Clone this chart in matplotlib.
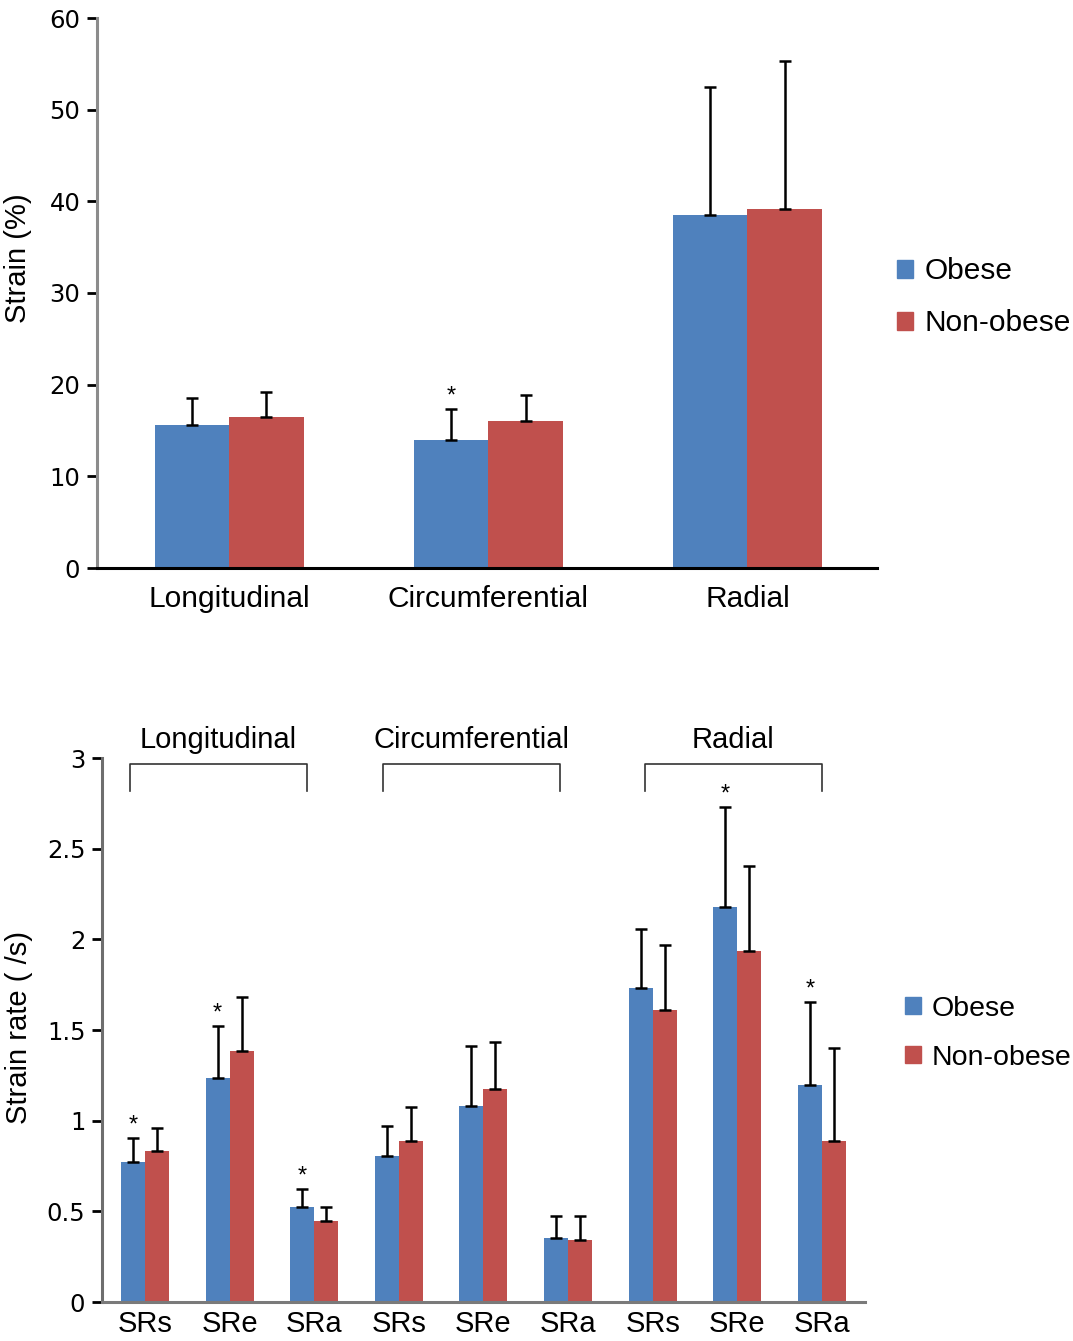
import numpy as np
import matplotlib
matplotlib.use("Agg")
import matplotlib.pyplot as plt

# Top panel: strain (%)
strain_cats = ["Longitudinal", "Circumferential", "Radial"]
strain_obese = [15.6, 14.0, 38.5]
strain_obese_err = [2.9, 3.3, 14.0]
strain_non = [16.5, 16.0, 39.2]
strain_non_err = [2.7, 2.9, 16.1]
strain_star = [False, True, False]

# Bottom panel: strain rate (/s)
rate_ticks = ["SRs", "SRe", "SRa"] * 3
rate_groups = ["Longitudinal", "Circumferential", "Radial"]
rate_obese = [0.77, 1.235, 0.524, 0.805, 1.08, 0.353, 1.73, 2.18, 1.197]
rate_obese_err = [0.135, 0.285, 0.10, 0.165, 0.33, 0.121, 0.327, 0.55, 0.458]
rate_non = [0.83, 1.385, 0.447, 0.888, 1.175, 0.342, 1.61, 1.936, 0.888]
rate_non_err = [0.13, 0.295, 0.077, 0.187, 0.259, 0.132, 0.36, 0.469, 0.512]
rate_star = [True, True, True, False, False, False, False, True, True]

BLUE = "#4F81BD"
RED = "#C0504D"
SANS = ["Liberation Sans", "DejaVu Sans"]

fig = plt.figure(figsize=(10.73, 13.41), dpi=100)


def style_axes(ax, left_color, bottom_color, xsize, xpad):
    for s in ["top", "right"]:
        ax.spines[s].set_visible(False)
    ax.spines["left"].set_color(left_color)
    ax.spines["bottom"].set_color(bottom_color)
    ax.spines["left"].set_linewidth(2.2)
    ax.spines["bottom"].set_linewidth(2.2)
    ax.tick_params(axis="y", direction="out", length=7, width=2, color="black",
                   labelsize=17.5, pad=5)
    ax.tick_params(axis="x", length=0, labelsize=xsize, pad=xpad)
    for lab in ax.get_xticklabels():
        lab.set_family(SANS)


def draw_bars(ax, x, obese, obese_err, non, non_err, stars, w, capsize, star_off):
    ax.bar(x - w / 2, obese, w, color=BLUE, edgecolor="none", zorder=2)
    ax.bar(x + w / 2, non, w, color=RED, edgecolor="none", zorder=2)
    ax.errorbar(x - w / 2, obese, yerr=[np.zeros(len(x)), obese_err], fmt="none",
                ecolor="black", elinewidth=1.8, capsize=capsize, capthick=1.8, zorder=3)
    ax.errorbar(x + w / 2, non, yerr=[np.zeros(len(x)), non_err], fmt="none",
                ecolor="black", elinewidth=1.8, capsize=capsize, capthick=1.8, zorder=3)
    for xi, v, e, s in zip(x, obese, obese_err, stars):
        if s:
            ax.text(xi - w / 2, v + e + star_off, "*", ha="center", va="bottom",
                    fontsize=17, family=SANS)


def add_legend(ax, anchor, size):
    handles = [plt.Rectangle((0, 0), 1, 1, color=BLUE),
               plt.Rectangle((0, 0), 1, 1, color=RED)]
    ax.legend(handles, ["Obese", "Non-obese"], loc="center left",
              bbox_to_anchor=anchor, frameon=False,
              prop={"family": SANS, "size": size}, handlelength=0.55,
              handleheight=0.55, handletextpad=0.37, labelspacing=0.8,
              borderaxespad=0, borderpad=0)


# ---- top panel
ax1 = fig.add_axes([97 / 1073, 1 - 568 / 1341, 780 / 1073, 550 / 1341])
x1 = np.arange(len(strain_cats))
draw_bars(ax1, x1, strain_obese, strain_obese_err, strain_non, strain_non_err,
          strain_star, 0.288, 4.5, 0.2)
ax1.set_xlim(-0.51, 2.5)
ax1.set_ylim(0, 60)
ax1.set_yticks(np.arange(0, 61, 10))
ax1.set_xticks(x1)
ax1.set_xticklabels(strain_cats)
style_axes(ax1, "#8c8c8c", "black", 21.5, 12)
ax1.set_ylabel("Strain (%)", fontsize=21, family=SANS)
ax1.yaxis.set_label_coords(-0.083, 0.564)
add_legend(ax1, (1.0256, 0.492), 21.5)

# ---- bottom panel
ax2 = fig.add_axes([102 / 1073, 1 - 1302 / 1341, 763 / 1073, 544 / 1341])
x2 = np.arange(len(rate_ticks))
draw_bars(ax2, x2, rate_obese, rate_obese_err, rate_non, rate_non_err,
          rate_star, 0.284, 4, 0.01)
ax2.set_xlim(-0.508, 8.51)
ax2.set_ylim(0, 3)
ax2.set_yticks([0, 0.5, 1, 1.5, 2, 2.5, 3])
ax2.set_yticklabels(["0", "0.5", "1", "1.5", "2", "2.5", "3"])
ax2.set_xticks(x2)
ax2.set_xticklabels(rate_ticks)
style_axes(ax2, "#6e6e6e", "#7a7a7a", 21, 6)
ax2.set_ylabel("Strain rate ( /s)", fontsize=21, family=SANS)
ax2.yaxis.set_label_coords(-0.09, 0.505)

# group brackets above the bars
bracket_start = [-0.18, 2.81, 5.91]
bracket_end = [1.91, 4.90, 8.0]
for name, b0, b1 in zip(rate_groups, bracket_start, bracket_end):
    ax2.plot([b0, b0, b1, b1], [2.818, 2.967, 2.967, 2.818], color="#333333",
             lw=1.2, clip_on=False)
    ax2.text((b0 + b1) / 2, 3.02, name, ha="center", va="bottom", fontsize=21,
             family=SANS)

add_legend(ax2, (1.0524, 0.494), 20.5)

fig.savefig("out.png", dpi=100)
